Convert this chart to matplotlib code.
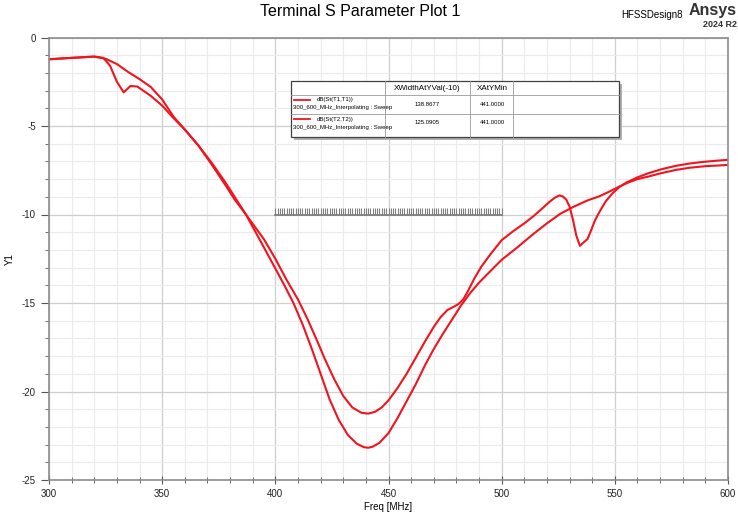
import numpy as np
import matplotlib
matplotlib.use("Agg")
from matplotlib import pyplot as plt
from matplotlib.ticker import MultipleLocator

plt.rcParams["font.family"] = ["Liberation Sans", "DejaVu Sans"]
plt.rcParams["axes.unicode_minus"] = False

# dB(St(T1,T1)) sweep samples
freq_t1 = [300, 310, 320, 325, 330, 335, 340, 345, 350, 355, 360, 366, 372, 378,
	382, 387, 393, 400, 404, 408, 412, 416, 420, 424, 428, 432, 436, 439, 441,
	443, 446, 450, 454, 458, 462, 466, 470, 474, 478, 482, 486, 490, 495, 500,
	507, 514, 520, 526, 532, 538, 543, 548, 552, 556, 560, 565, 570, 577, 583,
	590, 600]
db_t1 = [-1.23, -1.15, -1.08, -1.2, -1.5, -1.95, -2.35, -2.8, -3.5, -4.47,
	-5.2, -6.1, -7.2, -8.35, -9.15, -10.0, -11.4, -13.05, -14.0, -15.0, -16.2,
	-17.55, -19.0, -20.45, -21.6, -22.45, -22.95, -23.14, -23.18, -23.12,
	-22.9, -22.35, -21.5, -20.55, -19.6, -18.55, -17.6, -16.75, -15.95, -15.15,
	-14.45, -13.85, -13.2, -12.56, -11.85, -11.1, -10.5, -9.95, -9.55, -9.2,
	-8.98, -8.68, -8.42, -8.19, -8.0, -7.85, -7.68, -7.48, -7.36, -7.27, -7.2]

# dB(St(T2,T2)) sweep samples
freq_t2 = [300, 310, 320, 324, 327, 330, 333, 336, 339, 345, 350, 355, 360, 366,
	372, 378, 382, 387, 395, 400, 405, 410, 414, 418, 422, 426, 430, 434, 438,
	441, 444, 447, 450, 454, 458, 462, 466, 470, 473, 476, 479, 481, 483, 485,
	488, 491, 495, 500, 505, 510, 514, 518, 521, 523.5, 525.5, 527, 528.5, 530,
	531.5, 533, 534.6, 536, 537.9, 539.5, 541, 543, 546, 549, 552, 555, 560,
	565, 571, 577, 583, 589, 595, 600]
db_t2 = [-1.23, -1.15, -1.08, -1.15, -1.6, -2.5, -3.1, -2.74, -2.77, -3.3,
	-3.85, -4.55, -5.2, -6.1, -7.1, -8.2, -9.0, -10.0, -11.4, -12.5, -13.7,
	-14.8, -15.85, -17.0, -18.2, -19.3, -20.25, -20.9, -21.2, -21.25, -21.15,
	-20.9, -20.5, -19.8, -19.0, -18.1, -17.2, -16.35, -15.8, -15.4, -15.2,
	-15.05, -14.8, -14.35, -13.6, -12.95, -12.25, -11.45, -10.95, -10.5, -10.1,
	-9.65, -9.3, -9.05, -8.92, -8.98, -9.15, -9.55, -10.3, -11.2, -11.77,
	-11.6, -11.39, -10.9, -10.4, -9.9, -9.25, -8.8, -8.45, -8.2, -7.9, -7.66,
	-7.43, -7.25, -7.12, -7.03, -6.96, -6.91]

trace_names = ["dB(St(T1,T1))", "dB(St(T2,T2))"]
sweep_name = "300_600_MHz_Interpolating : Sweep"
col_names = ["XWidthAtYVal(-10)", "XAtYMin"]
width_at_m10 = ["138.8677", "125.0905"]
x_at_ymin = ["441.0000", "441.0000"]

marker_level = -10
marker_span = (400, 500)

RED = "#f0141e"

fig = plt.figure(figsize=(7.38, 5.14), dpi=100)
ax = fig.add_axes([49 / 738, 1 - 480 / 514, 679 / 738, 442.5 / 514])

ax.plot(freq_t1, db_t1, color=RED, lw=1.5, solid_joinstyle="round")
ax.plot(freq_t2, db_t2, color=RED, lw=1.5, solid_joinstyle="round")

ax.set_xlim(300, 600)
ax.set_ylim(-25, 0)
ax.xaxis.set_major_locator(MultipleLocator(50))
ax.xaxis.set_minor_locator(MultipleLocator(10))
ax.yaxis.set_major_locator(MultipleLocator(5))
ax.yaxis.set_minor_locator(MultipleLocator(1))
ax.grid(which="major", color="#cfcfcf", lw=0.9)
ax.grid(which="minor", color="#ebebeb", lw=0.8)
ax.set_axisbelow(True)
for s in ax.spines.values():
	s.set_color("#8c8c8c")
	s.set_linewidth(1.2)
ax.tick_params(which="both", colors="#555555", labelsize=7, labelcolor="#222222")
ax.tick_params(axis="y", which="major", length=6, direction="out")
ax.tick_params(axis="y", which="minor", length=3, direction="out")
ax.tick_params(axis="x", which="major", length=6, direction="inout")
ax.tick_params(axis="x", which="minor", length=4, direction="inout")
ax.set_xlabel("Freq [MHz]", fontsize=7, labelpad=2)
ax.set_ylabel("Y1", fontsize=7)
ax.yaxis.set_label_coords(-0.05, 0.5)

# comb at the -10 dB level
comb = np.arange(marker_span[0], marker_span[1] + 1, 1)
ax.plot(marker_span, [marker_level, marker_level], color="#808080", lw=1.3, zorder=3)
ax.vlines(comb, marker_level, marker_level + 0.34, color="#808080", lw=0.8, zorder=3)

# marker table
def px(x, y):
	return x / 738, 1 - y / 514

tx0, ty0, tx1, ty1 = 291, 81, 619, 137
shadow = plt.Rectangle(px(tx0 + 3, ty1 + 3), (tx1 - tx0) / 738, (ty1 - ty0) / 514,
	transform=fig.transFigure, facecolor="#b0b0b0", edgecolor="none", zorder=4)
box = plt.Rectangle(px(tx0, ty1), (tx1 - tx0) / 738, (ty1 - ty0) / 514,
	transform=fig.transFigure, facecolor="white", edgecolor="#404040", lw=0.9, zorder=5)
fig.add_artist(shadow)
fig.add_artist(box)
for xv in (385, 470, 513):
	fig.add_artist(plt.Line2D([xv / 738] * 2, [px(0, ty0)[1], px(0, ty1)[1]],
		color="#9a9a9a", lw=0.6, zorder=6))
for yv in (95, 114):
	fig.add_artist(plt.Line2D([tx0 / 738, tx1 / 738], [px(0, yv)[1]] * 2,
		color="#9a9a9a", lw=0.6, zorder=6))

fig.text(*px(427, 88), col_names[0], fontsize=5.8, ha="center", va="center", zorder=7)
fig.text(*px(492, 88), col_names[1], fontsize=5.8, ha="center", va="center", zorder=7)
for i, (name, w, xm) in enumerate(zip(trace_names, width_at_m10, x_at_ymin)):
	yl = 100 + i * 19
	fig.add_artist(plt.Line2D([294 / 738, 310 / 738], [px(0, yl)[1]] * 2,
		color=RED, lw=1.3, zorder=7))
	fig.text(*px(317, yl), name, fontsize=4.3, va="center", zorder=7)
	fig.text(*px(293, yl + 8), sweep_name, fontsize=4.3, va="center", zorder=7)
	fig.text(*px(427, yl + 4), w, fontsize=4.3, ha="center", va="center", zorder=7)
	fig.text(*px(492, yl + 4), xm, fontsize=4.3, ha="center", va="center", zorder=7)

fig.text(*px(360, 12), "Terminal S Parameter Plot 1", fontsize=11.5, ha="center", va="center")
fig.text(*px(683, 15), "HFSSDesign8", fontsize=7, ha="right", va="center")
fig.text(*px(737, 10), "Ansys", fontsize=11.5, fontweight="bold", ha="right",
	va="center", color="#333333")
fig.text(*px(737, 24), "2024 R2", fontsize=6.5, fontweight="bold", ha="right",
	va="center", color="#333333")

fig.savefig("out.png", dpi=100)
